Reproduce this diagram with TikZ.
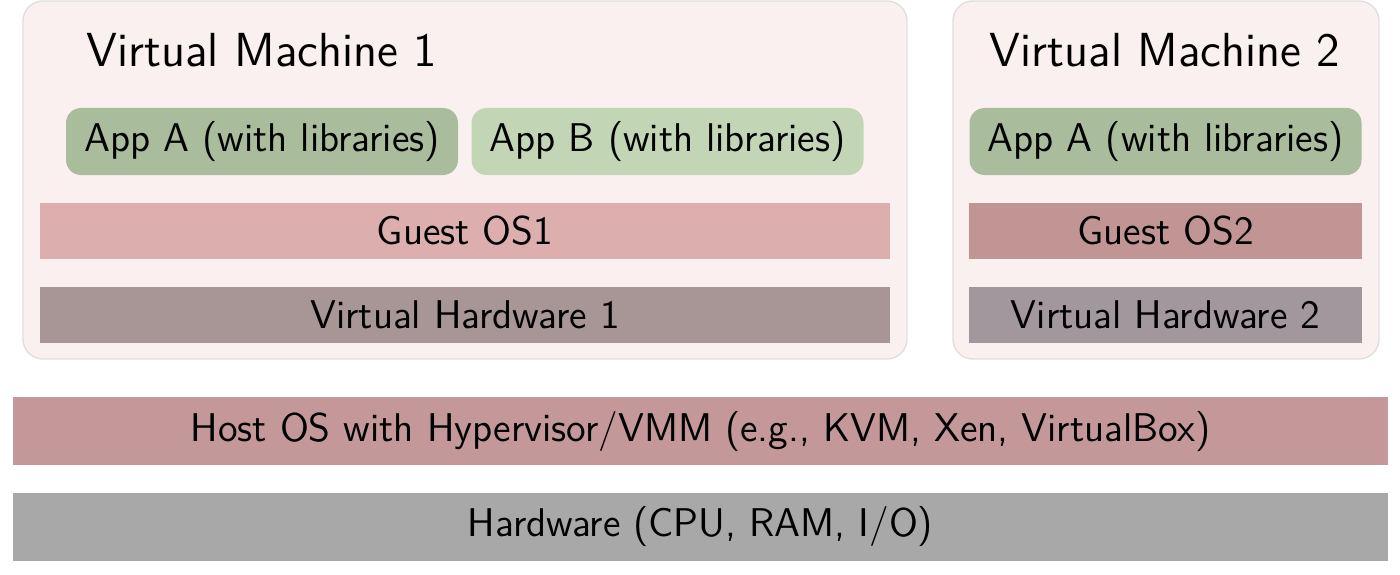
\documentclass[tikz,border=0pt]{standalone}
\usepackage{tikz}
\usetikzlibrary{positioning}
\definecolor{vmfill}{RGB}{251, 240, 240}
\definecolor{vmline}{RGB}{225, 222, 222}
\definecolor{appgreen}{RGB}{169, 188, 156}
\definecolor{applight}{RGB}{194, 213, 181}
\definecolor{guestpink}{RGB}{221, 174, 174}
\definecolor{guestrose}{RGB}{194, 149, 149}
\definecolor{vhwbrown}{RGB}{168, 149, 149}
\definecolor{vhwmauve}{RGB}{163, 151, 158}
\definecolor{hostrose}{RGB}{196, 152, 152}
\definecolor{hwgray}{RGB}{168, 168, 168}
\newcommand{\boxfont}{\sffamily\fontsize{11.4}{13.5}\selectfont}
\newcommand{\titlefont}{\sffamily\fontsize{13.6}{16.5}\selectfont}

\begin{document}
\begin{tikzpicture}[
        font=\boxfont,
        vm/.style={draw=vmline, fill=vmfill, rounded corners=0.2cm, minimum height=3.58cm},
        app/.style={fill=appgreen, rounded corners=0.15cm, minimum width=3.92cm, minimum height=0.67cm},
        layer/.style={minimum height=0.56cm},
        base/.style={minimum width=13.75cm, minimum height=0.68cm}
    ]
        \useasboundingbox (0, 0) rectangle (14, 5.74);

        \node[vm, minimum width=8.84cm] (vm1) at (4.65, 3.94) {};
        \node[vm, minimum width=4.26cm] (vm2) at (11.66, 3.94) {};

        \node[font=\titlefont] (title1) at (2.62, 5.24) {Virtual Machine 1};
        \node[font=\titlefont] (title2) at (11.65, 5.24) {Virtual Machine 2};

        \node[app] (appa1) at (2.62, 4.325) {App A (with libraries)};
        \node[app, fill=applight] (appb1) at (6.675, 4.325) {App B (with libraries)};
        \node[app] (appa2) at (11.655, 4.325) {App A (with libraries)};

        \node[layer, fill=guestpink, minimum width=8.5cm] (guest1) at (4.65, 3.43) {Guest OS1};
        \node[layer, fill=guestrose, minimum width=3.93cm] (guest2) at (11.655, 3.43) {Guest OS2};

        \node[layer, fill=vhwbrown, minimum width=8.5cm] (vhw1) at (4.65, 2.59) {Virtual Hardware 1};
        \node[layer, fill=vhwmauve, minimum width=3.93cm] (vhw2) at (11.655, 2.59) {Virtual Hardware 2};

        \node[base, fill=hostrose] (host) at (7.005, 1.43) {Host OS with Hypervisor/VMM (e.g., KVM, Xen, VirtualBox)};
        \node[base, fill=hwgray] (hw) at (7.005, 0.475) {Hardware (CPU, RAM, I/O)};
    \end{tikzpicture}
\end{document}
